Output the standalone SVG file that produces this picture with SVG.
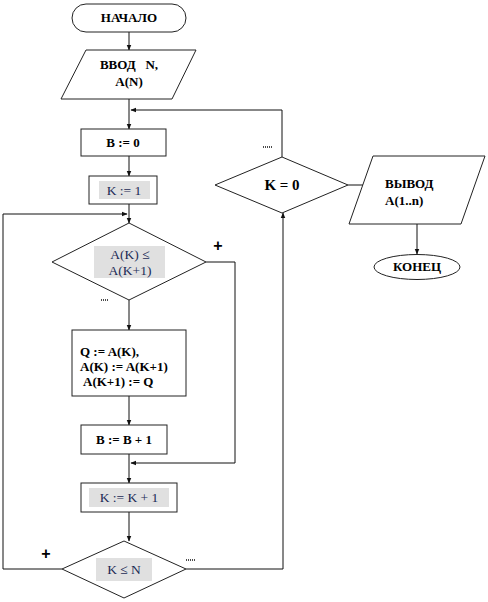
<svg xmlns="http://www.w3.org/2000/svg" width="488" height="602" viewBox="0 0 488 602">
<style>
.shape{fill:#fff;stroke:#222;stroke-width:1}
.hl{fill:#e0e0e0;stroke:none}
.b{font-family:"Liberation Serif",serif;font-weight:bold;font-size:13px;fill:#000;white-space:pre}
.n{font-family:"Liberation Serif",serif;font-size:13.5px;fill:#1b2a55}
.plus{font-family:"Liberation Sans",sans-serif;font-weight:bold;font-size:16px;fill:#000}
.ln{fill:none;stroke:#111;stroke-width:1}
.dot{fill:none;stroke:#111;stroke-width:1.5;stroke-dasharray:1,1}
</style>
<defs>
<marker id="ar" viewBox="0 0 10 10" refX="9" refY="5" markerWidth="6" markerHeight="6" orient="auto">
<path d="M0,1 L10,5 L0,9 Z" fill="#111"/>
</marker>
</defs>
<rect width="488" height="602" fill="#fff"/>
<g id="connectors">
<path class="ln" d="M129,32 V50" marker-end="url(#ar)"/>
<path class="ln" d="M129,99 V129" marker-end="url(#ar)"/>
<path class="ln" d="M282,157 V110 H131" marker-end="url(#ar)"/>
<path class="ln" d="M129,156 V176" marker-end="url(#ar)"/>
<path class="ln" d="M129,204 V223" marker-end="url(#ar)"/>
<path class="ln" d="M62,569 H3 V214 H127" marker-end="url(#ar)"/>
<path class="ln" d="M129,300 V330" marker-end="url(#ar)"/>
<path class="ln" d="M206,262 H235 V463 H131" marker-end="url(#ar)"/>
<path class="ln" d="M129,396 V425" marker-end="url(#ar)"/>
<path class="ln" d="M129,454 V483" marker-end="url(#ar)"/>
<path class="ln" d="M129,512 V541" marker-end="url(#ar)"/>
<path class="ln" d="M186,569 H283 V213" marker-end="url(#ar)"/>
<path class="ln" d="M348,185 H373"/>
<path class="ln" d="M417,224 V254" marker-end="url(#ar)"/>
<text class="plus" x="218" y="251" text-anchor="middle">+</text>
<text class="plus" x="46" y="559" text-anchor="middle">+</text>
<path class="dot" d="M101,300 H109"/>
<path class="dot" d="M263,147 H272"/>
<path class="dot" d="M186,560 H196"/>
</g>
<g id="start">
<rect class="shape" x="72" y="4" width="114" height="28" rx="14"/>
<text class="b" x="129" y="22" text-anchor="middle">НАЧАЛО</text>
</g>
<g id="input">
<polygon class="shape" points="86,50 196,50 172,99 61,99"/>
<text class="b" x="129" y="69" text-anchor="middle">ВВОД   N,</text>
<text class="b" x="129" y="86" text-anchor="middle">A(N)</text>
</g>
<g id="b0">
<rect class="shape" x="81" y="129" width="85" height="27"/>
<text class="b" x="123" y="147" text-anchor="middle">B := 0</text>
</g>
<g id="k1">
<rect class="shape" x="89" y="176" width="68" height="28"/>
<rect class="hl" x="99" y="181" width="51" height="18"/>
<text class="n" x="124" y="195" text-anchor="middle">K := 1</text>
</g>
<g id="cmp">
<polygon class="shape" points="129,223 206,262 129,300 52,262"/>
<rect class="hl" x="94" y="246" width="71" height="32"/>
<text class="n" x="130" y="259" text-anchor="middle">A(K) ≤</text>
<text class="n" x="130" y="275" text-anchor="middle">A(K+1)</text>
</g>
<g id="swap">
<rect class="shape" x="72" y="330" width="114" height="66"/>
<text class="b" x="80" y="356">Q := A(K),</text>
<text class="b" x="80" y="371">A(K) := A(K+1)</text>
<text class="b" x="83" y="386">A(K+1) := Q</text>
</g>
<g id="binc">
<rect class="shape" x="81" y="425" width="86" height="29"/>
<text class="b" x="124" y="444" text-anchor="middle">B := B + 1</text>
</g>
<g id="kinc">
<rect class="shape" x="81" y="483" width="96" height="29"/>
<rect class="hl" x="89" y="488" width="80" height="19"/>
<text class="n" x="129" y="502" text-anchor="middle">K := K + 1</text>
</g>
<g id="kn">
<polygon class="shape" points="124,541 186,569 124,598 62,569"/>
<rect class="hl" x="96" y="558" width="56" height="23"/>
<text class="n" x="124" y="574" text-anchor="middle">K ≤ N</text>
</g>
<g id="k0">
<polygon class="shape" points="282,157 348,185 282,213 215,185"/>
<text class="b" x="282" y="190" text-anchor="middle" style="font-size:15px">K = 0</text>
</g>
<g id="output">
<polygon class="shape" points="373,156 485,156 461,224 349,224"/>
<text class="b" x="385" y="188">ВЫВОД</text>
<text class="b" x="385" y="205">A(1..n)</text>
</g>
<g id="end">
<ellipse class="shape" cx="417" cy="267" rx="43" ry="12.5"/>
<text class="b" x="417" y="271" text-anchor="middle">КОНЕЦ</text>
</g>
</svg>
